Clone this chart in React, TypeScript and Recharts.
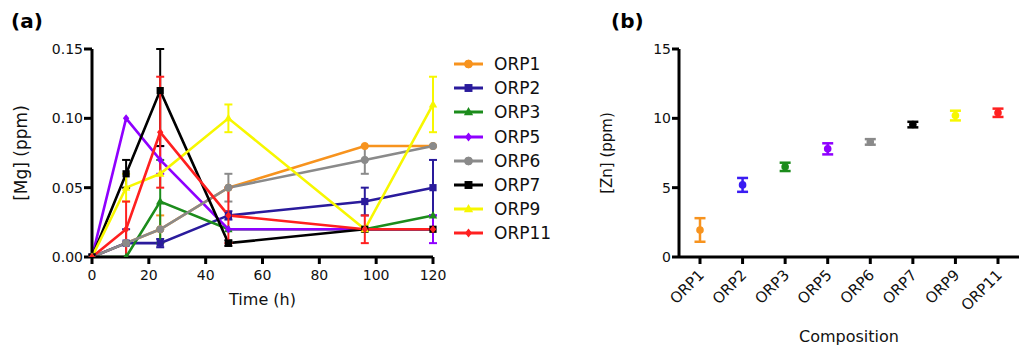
import React from 'react';
import { ComposedChart, Line, XAxis, YAxis, ErrorBar, Legend } from 'recharts';

// ---------- Panel (a): Mg release ----------
const times = [0, 12, 24, 48, 96, 120];
const seriesNames = ['ORP1', 'ORP2', 'ORP3', 'ORP5', 'ORP6', 'ORP7', 'ORP9', 'ORP11'];

const orp1Mg = [0, 0.01, 0.02, 0.05, 0.08, 0.08];
const orp2Mg = [0, 0.01, 0.01, 0.03, 0.04, 0.05];
const orp3Mg = [0, 0, 0.04, 0.02, 0.02, 0.03];
const orp5Mg = [0, 0.1, 0.07, 0.02, 0.02, 0.02];
const orp6Mg = [0, 0.01, 0.02, 0.05, 0.07, 0.08];
const orp7Mg = [0, 0.06, 0.12, 0.01, 0.02, 0.02];
const orp9Mg = [0, 0.05, 0.06, 0.1, 0.02, 0.11];
const orp11Mg = [0, 0.02, 0.09, 0.03, 0.02, 0.02];

// error values: single number = symmetric, [low, high] = asymmetric
const orp1Err = [null, null, 0.01, null, null, null];
const orp2Err = [null, 0.01, 0.003, 0.003, 0.01, 0.02];
const orp3Err = [null, null, 0.03, null, null, null];
const orp5Err = [null, null, 0.01, null, null, 0.01];
const orp6Err = [null, null, null, 0.01, 0.01, null];
const orp7Err = [null, 0.01, [0.04, 0.03], 0.002, null, null];
const orp9Err = [null, 0.01, null, 0.01, null, 0.02];
const orp11Err = [null, 0.02, 0.04, 0.02, 0.01, null];

const mgValues = [orp1Mg, orp2Mg, orp3Mg, orp5Mg, orp6Mg, orp7Mg, orp9Mg, orp11Mg];
const mgErrors = [orp1Err, orp2Err, orp3Err, orp5Err, orp6Err, orp7Err, orp9Err, orp11Err];
const lineColors = ['#f7931e', '#2a1b9c', '#1c8c1c', '#8f00ff', '#8a8a8a', '#000000', '#f7f700', '#ff2020'];
const markerShapes = ['circle', 'square', 'triangle', 'diamond', 'circle', 'square', 'triangle', 'diamond'];
const timeTicks = [0, 20, 40, 60, 80, 100, 120];
const mgTicks = [0, 0.05, 0.1, 0.15];

// ---------- Panel (b): Zn ----------
const compositions = ['ORP1', 'ORP2', 'ORP3', 'ORP5', 'ORP6', 'ORP7', 'ORP9', 'ORP11'];
const znValues = [1.95, 5.2, 6.5, 7.8, 8.3, 9.55, 10.2, 10.4];
const znErrors = [0.85, 0.5, 0.3, 0.4, 0.2, 0.2, 0.35, 0.3];
const znColors = ['#f7931e', '#3a1cf2', '#1c8c1c', '#8f00ff', '#8a8a8a', '#000000', '#f7f700', '#ff2020'];
const znTicks = [0, 5, 10, 15];

const FONT = '"DejaVu Sans", "Liberation Sans", Arial, sans-serif';

const mgData = times.map((t, i) => {
  const row: any = { t };
  mgValues.forEach((vals, s) => {
    row['v' + s] = vals[i];
    row['e' + s] = mgErrors[s][i];
  });
  return row;
});

const znData = compositions.map((c, i) => {
  const row: any = { name: c };
  row['v' + i] = znValues[i];
  row['e' + i] = znErrors[i];
  return row;
});

function Marker({ cx, cy, shape, color, size = 1 }: any) {
  if (cx == null || cy == null || isNaN(cx) || isNaN(cy)) return null;
  const s = size;
  if (shape === 'circle') return <circle cx={cx} cy={cy} r={3.6 * s} fill={color} stroke={color} />;
  if (shape === 'square') return <rect x={cx - 3.6 * s} y={cy - 3.6 * s} width={7.2 * s} height={7.2 * s} fill={color} />;
  if (shape === 'triangle')
    return (
      <polygon
        points={`${cx},${cy - 4.5 * s} ${cx + 4.2 * s},${cy + 3 * s} ${cx - 4.2 * s},${cy + 3 * s}`}
        fill={color}
      />
    );
  return (
    <polygon
      points={`${cx},${cy - 4 * s} ${cx + 3.2 * s},${cy} ${cx},${cy + 4 * s} ${cx - 3.2 * s},${cy}`}
      fill={color}
    />
  );
}

function LegendBox() {
  return (
    <div style={{ fontFamily: FONT, fontSize: 17, color: '#111' }}>
      {seriesNames.map((n, i) => (
        <div key={n} style={{ display: 'flex', alignItems: 'center', height: 24.2 }}>
          <svg width={42} height={24} style={{ display: 'block' }}>
            <line x1={2} x2={31} y1={12} y2={12} stroke={lineColors[i]} strokeWidth={3} />
            <Marker cx={16.5} cy={12} shape={markerShapes[i]} color={lineColors[i]} size={1.1} />
          </svg>
          <span style={{ lineHeight: '24px' }}>{n}</span>
        </div>
      ))}
    </div>
  );
}

const tickStyle = { fill: '#111', fontSize: 14, fontFamily: FONT };
const axisLineStyle = { stroke: '#000', strokeWidth: 3 };

function RotTick({ x, y, payload }: any) {
  const ax = x + 5;
  const ay = y + 10;
  return (
    <text
      x={ax}
      y={ay}
      transform={`rotate(-45, ${ax}, ${ay})`}
      textAnchor="end"
      fill="#111"
      fontSize={15}
      fontFamily={FONT}
    >
      {payload.value}
    </text>
  );
}

export default function App() {
  return (
    <div style={{ position: 'fixed', left: 0, top: 0, width: 1024, height: 347, background: '#fff', overflow: 'hidden' }}>
      <div style={{ position: 'absolute', left: 11, top: 9, fontFamily: FONT, fontWeight: 'bold', fontSize: 20 }}>(a)</div>
      <div style={{ position: 'absolute', left: 611, top: 9, fontFamily: FONT, fontWeight: 'bold', fontSize: 20 }}>(b)</div>

      <div style={{ position: 'absolute', left: 0, top: 0 }}>
        <ComposedChart width={590} height={347} data={mgData} margin={{ top: 49, right: 157, bottom: 60, left: 5 }}>
          <XAxis
            dataKey="t"
            type="number"
            domain={[0, 120]}
            ticks={timeTicks}
            tick={tickStyle}
            tickSize={7}
            tickMargin={6}
            axisLine={axisLineStyle}
            tickLine={axisLineStyle}
            height={30}
            label={{ value: 'Time (h)', position: 'bottom', offset: 7, style: { fontSize: 16, fontFamily: FONT, fill: '#111' } }}
          />
          <YAxis
            type="number"
            domain={[0, 0.15]}
            allowDataOverflow
            ticks={mgTicks}
            tickFormatter={(v: number) => v.toFixed(2)}
            tick={tickStyle}
            tickSize={8}
            tickMargin={1}
            axisLine={axisLineStyle}
            tickLine={axisLineStyle}
            width={87}
            label={{
              value: '[Mg] (ppm)',
              angle: -90,
              position: 'insideLeft',
              offset: 16,
              style: { textAnchor: 'middle', fontSize: 17, fontFamily: FONT, fill: '#111' },
            }}
          />
          {seriesNames.map((n, s) => (
            <Line
              key={n}
              dataKey={'v' + s}
              name={n}
              stroke={lineColors[s]}
              strokeWidth={2.6}
              isAnimationActive={false}
              dot={(p: any) => (
                <Marker key={`d${s}-${p.index}`} cx={p.cx} cy={p.cy} shape={markerShapes[s]} color={lineColors[s]} />
              )}
              activeDot={false}
            >
              <ErrorBar dataKey={'e' + s} width={4} strokeWidth={2} stroke={lineColors[s]} direction="y" />
            </Line>
          ))}
          <Legend
            layout="vertical"
            align="center"
            verticalAlign="middle"
            wrapperStyle={{ left: 452, top: 52, width: 130 }}
            content={() => <LegendBox />}
          />
        </ComposedChart>
      </div>

      <div style={{ position: 'absolute', left: 590, top: 0 }}>
        <ComposedChart width={434} height={347} data={znData} margin={{ top: 49, right: 5, bottom: 30, left: 10 }}>
          <XAxis
            dataKey="name"
            type="category"
            padding={{ left: 21, right: 21 }}
            tick={<RotTick />}
            tickSize={7}
            tickMargin={2}
            interval={0}
            axisLine={axisLineStyle}
            tickLine={axisLineStyle}
            height={60}
            label={{ value: 'Composition', position: 'bottom', offset: 14, style: { fontSize: 16, fontFamily: FONT, fill: '#111' } }}
          />
          <YAxis
            type="number"
            domain={[0, 15]}
            ticks={znTicks}
            tick={tickStyle}
            tickSize={7}
            tickMargin={1}
            axisLine={axisLineStyle}
            tickLine={axisLineStyle}
            width={79}
            label={{
              value: '[Zn] (ppm)',
              angle: -90,
              position: 'insideLeft',
              offset: 7,
              style: { textAnchor: 'middle', fontSize: 15, fontFamily: FONT, fill: '#111' },
            }}
          />
          {compositions.map((c, i) => (
            <Line
              key={c}
              dataKey={'v' + i}
              name={c}
              stroke="none"
              isAnimationActive={false}
              legendType="none"
              dot={(p: any) =>
                p.cy == null || isNaN(p.cy) ? (
                  <g key={`z${i}-${p.index}`} />
                ) : (
                  <circle key={`z${i}-${p.index}`} cx={p.cx} cy={p.cy} r={3.8} fill={znColors[i]} />
                )
              }
              activeDot={false}
            >
              <ErrorBar dataKey={'e' + i} width={5.5} strokeWidth={2.5} stroke={znColors[i]} direction="y" />
            </Line>
          ))}
        </ComposedChart>
      </div>
    </div>
  );
}
